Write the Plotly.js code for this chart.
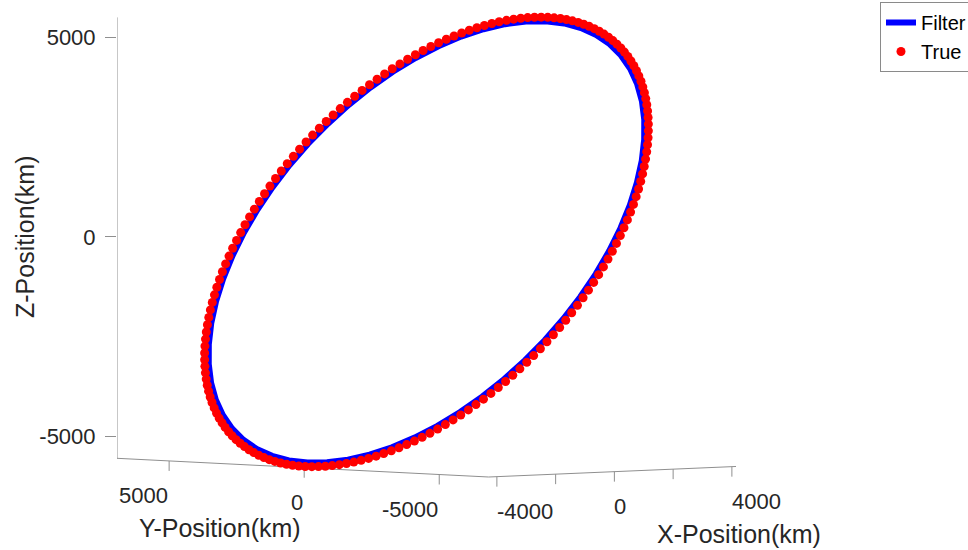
<!DOCTYPE html>
<html>
<head>
<meta charset="utf-8">
<script src="https://cdn.plot.ly/plotly-3.0.1.min.js"></script>
<style>html,body{margin:0;padding:0;background:#fff;}#chart{width:968px;height:550px;}</style>
</head>
<body>
<div id="chart"></div>
<script>
// ---- Filter estimate (blue line), km ----
const filterX = [3986,3964,3897,3788,3635,3443,3211,2944,2644,2314,1958,1580,1183,773,354,-70,-494,-913,-1323,-1720,-2098,-2454,-2784,-3084,-3351,-3583,-3775,-3928,-4037,-4104,-4126,-4104,-4037,-3928,-3775,-3583,-3351,-3084,-2784,-2454,-2098,-1720,-1323,-913,-494,-70,354,773,1183,1580,1958,2314,2644,2944,3211,3443,3635,3788,3897,3964,3986];
const filterY = [50,757,1455,2139,2800,3430,4023,4573,5074,5519,5904,6226,6479,6662,6773,6810,6773,6662,6479,6226,5904,5519,5074,4573,4023,3430,2800,2139,1455,757,50,-657,-1355,-2039,-2700,-3330,-3923,-4473,-4974,-5419,-5804,-6126,-6379,-6562,-6673,-6710,-6673,-6562,-6379,-6126,-5804,-5419,-4974,-4473,-3923,-3330,-2700,-2039,-1355,-657,50];
const filterZ = [5383,5353,5265,5118,4916,4658,4350,3994,3594,3154,2679,2175,1646,1099,540,-25,-590,-1149,-1696,-2225,-2729,-3204,-3644,-4044,-4400,-4708,-4966,-5168,-5315,-5403,-5433,-5403,-5315,-5168,-4966,-4708,-4400,-4044,-3644,-3204,-2729,-2225,-1696,-1149,-590,-25,540,1099,1646,2175,2679,3154,3594,3994,4350,4658,4916,5118,5265,5353,5383];

// ---- True positions (red dots), km ----
const trueX = [4058,4055,4048,4035,4018,3995,3968,3935,3898,3856,3809,3757,3701,3640,3575,3505,3431,3352,3270,3183,3092,2998,2899,2798,2692,2583,2471,2356,2238,2118,1994,1868,1740,1609,1476,1342,1206,1068,929,788,647,504,361,218,74,-70,
-214,-358,-501,-644,-787,-928,-1069,-1208,-1346,-1482,-1616,-1749,-1880,-2008,-2134,-2258,-2378,-2496,-2611,-2723,-2832,-2938,-3039,-3138,-3232,-3323,-3410,-3492,-3571,-3645,-3715,-3780,-3841,-3897,-3949,-3996,-4038,-4075,-4108,-4135,-4158,-4175,-4188,-4195,-4198,
-4195,-4188,-4175,-4158,-4135,-4108,-4075,-4038,-3996,-3949,-3897,-3841,-3780,-3715,-3645,-3571,-3492,-3410,-3323,-3232,-3138,-3039,-2938,-2832,-2723,-2611,-2496,-2378,-2258,-2134,-2008,-1880,-1749,-1616,-1482,-1346,-1208,-1069,-928,-787,-644,-501,-358,-214,-70,
74,218,361,504,647,788,929,1068,1206,1342,1476,1609,1740,1868,1994,2118,2238,2356,2471,2583,2692,2798,2899,2998,3092,3183,3270,3352,3431,3505,3575,3640,3701,3757,3809,3856,3898,3935,3968,3995,4018,4035,4048,4055];
const trueY = [50,290,530,769,1007,1245,1480,1714,1946,2176,2403,2627,2848,3066,3280,3490,3696,3897,4094,4286,4472,4654,4829,4999,5163,5320,5472,5616,5754,5885,6008,6125,6234,6335,6429,6515,6593,6663,6726,6780,6826,6863,6892,6913,6926,6930,
6926,6913,6892,6863,6826,6780,6726,6663,6593,6515,6429,6335,6234,6125,6008,5885,5754,5616,5472,5320,5163,4999,4829,4654,4472,4286,4094,3897,3696,3490,3280,3066,2848,2627,2403,2176,1946,1714,1480,1245,1007,769,530,290,50,
-190,-430,-669,-907,-1145,-1380,-1614,-1846,-2076,-2303,-2527,-2748,-2966,-3180,-3390,-3596,-3797,-3994,-4186,-4372,-4554,-4729,-4899,-5063,-5220,-5372,-5516,-5654,-5785,-5908,-6025,-6134,-6235,-6329,-6415,-6493,-6563,-6626,-6680,-6726,-6763,-6792,-6813,-6826,-6830,
-6826,-6813,-6792,-6763,-6726,-6680,-6626,-6563,-6493,-6415,-6329,-6235,-6134,-6025,-5908,-5785,-5654,-5516,-5372,-5220,-5063,-4899,-4729,-4554,-4372,-4186,-3994,-3797,-3596,-3390,-3180,-2966,-2748,-2527,-2303,-2076,-1846,-1614,-1380,-1145,-907,-669,-430,-190];
const trueZ = [5479,5476,5466,5449,5425,5395,5359,5316,5266,5210,5147,5078,5003,4922,4835,4742,4643,4538,4428,4312,4191,4065,3934,3798,3658,3513,3364,3210,3053,2892,2727,2559,2388,2214,2037,1857,1676,1492,1307,1119,931,741,550,359,167,-25,
-217,-409,-600,-791,-981,-1169,-1357,-1542,-1726,-1907,-2087,-2264,-2438,-2609,-2777,-2942,-3103,-3260,-3414,-3563,-3708,-3848,-3984,-4115,-4241,-4362,-4478,-4588,-4693,-4792,-4885,-4972,-5053,-5128,-5197,-5260,-5316,-5366,-5409,-5445,-5475,-5499,-5516,-5526,-5529,
-5526,-5516,-5499,-5475,-5445,-5409,-5366,-5316,-5260,-5197,-5128,-5053,-4972,-4885,-4792,-4693,-4588,-4478,-4362,-4241,-4115,-3984,-3848,-3708,-3563,-3414,-3260,-3103,-2942,-2777,-2609,-2438,-2264,-2087,-1907,-1726,-1542,-1357,-1169,-981,-791,-600,-409,-217,-25,
167,359,550,741,931,1119,1307,1492,1676,1857,2037,2214,2388,2559,2727,2892,3053,3210,3364,3513,3658,3798,3934,4065,4191,4312,4428,4538,4643,4742,4835,4922,5003,5078,5147,5210,5266,5316,5359,5395,5425,5449,5466,5476];

// ---- Axes: limits and ticks (km) ----
const xRange = [-4280, 4140];
const yRange = [-6830, 6930];
const zRange = [-5556, 5505];
const xTickVals = [-4000, -2000, 0, 2000, 4000];
const xTickText = ['-4000', '', '0', '', '4000'];
const yTickVals = [5000, 0, -5000];
const yTickText = ['5000', '0', '-5000'];
const zTickVals = [-5000, 0, 5000];
const zTickText = ['-5000', '0', '5000'];
const seriesNames = ['Filter', 'True'];
const axisTitles = {x: 'X-Position(km)', y: 'Y-Position(km)', z: 'Z-Position(km)'};

// ---- 3-D view (orthographic, equal data aspect) ----
const VIEW_AZ = -42.6, VIEW_EL = 2.65;
const phi = -VIEW_AZ * Math.PI / 180, el = VIEW_EL * Math.PI / 180;
const cp = Math.cos(phi), sp = Math.sin(phi), te = Math.tan(el), ce = Math.cos(el);
function proj(x, y, z) {
  const dx = x - xRange[0], dy = y - yRange[1];
  return [dx * cp - dy * sp, z + te * (dx * sp + dy * cp)];
}
function projMany(xs, ys, zs) {
  const h = [], v = [];
  for (let i = 0; i < xs.length; i++) {
    if (xs[i] === null) { h.push(null); v.push(null); continue; }
    const p = proj(xs[i], ys[i], zs[i]); h.push(p[0]); v.push(p[1]);
  }
  return {h, v};
}

// page geometry: the projected box runs from px 117 (left corner) to px 736 (right corner),
// front-bottom corner at py 477
const W = 968, H = 550;
const BOX = {left: 117, right: 736, front: 477};
const M = {l: BOX.left, r: 0, t: 0, b: 0, autoexpand: false};
const pw = W - M.l - M.r, ph = H - M.t - M.b;
const hRight = proj(xRange[1], yRange[0], zRange[0])[0];
const pxPerH = (BOX.right - BOX.left) / hRight;
const pxPerV = pxPerH * ce;
const vFront = proj(xRange[0], yRange[0], zRange[0])[1];
const vBottom = vFront - (H - BOX.front) / pxPerV;
const vTop = vFront + BOX.front / pxPerV;
const px2paperX = px => (px - M.l) / pw;
const py2paperY = py => (H - py) / ph;

const AX_COLOR = '#8f8f8f';
const TXT = '#262626';
const FONT = 'Liberation Sans, Arial, Helvetica, sans-serif';

// box edges that MATLAB shows as axes
const edgeX = [xRange[0], xRange[0], null, xRange[0], xRange[1], null, xRange[0], xRange[0]];
const edgeY = [yRange[1], yRange[0], null, yRange[0], yRange[0], null, yRange[1], yRange[1]];
const edgeZ = [zRange[0], zRange[0], null, zRange[0], zRange[0], null, zRange[0], zRange[1]];
const edges = projMany(edgeX, edgeY, edgeZ);

// tick marks on the X and Y axes (hang 10 px below the edge)
const tickLenV = 10 / pxPerV;
const tH = [], tV = [];
xTickVals.forEach(t => { const p = proj(t, yRange[0], zRange[0]); tH.push(p[0], p[0], null); tV.push(p[1], p[1] - tickLenV, null); });
yTickVals.forEach(t => { const p = proj(xRange[0], t, zRange[0]); tH.push(p[0], p[0], null); tV.push(p[1], p[1] - tickLenV, null); });

const fp = projMany(filterX, filterY, filterZ);
const tp = projMany(trueX, trueY, trueZ);

const traces = [
  {type: 'scatter', mode: 'lines', x: edges.h, y: edges.v, line: {color: AX_COLOR, width: 1},
   showlegend: false, hoverinfo: 'skip', cliponaxis: false},
  {type: 'scatter', mode: 'lines', x: tH, y: tV, line: {color: AX_COLOR, width: 1},
   showlegend: false, hoverinfo: 'skip', cliponaxis: false},
  {type: 'scatter', mode: 'lines', name: seriesNames[0], x: fp.h, y: fp.v,
   line: {color: '#0000ff', width: 6}, hoverinfo: 'skip', cliponaxis: false},
  {type: 'scatter', mode: 'markers', name: seriesNames[1], x: tp.h, y: tp.v,
   marker: {color: '#ff0000', size: 9, line: {width: 0}}, hoverinfo: 'skip', cliponaxis: false}
];

// tick labels of the slanted axes (placed 34.5 px below the tick root)
const annotations = [];
const toPaper = p => [p[0] * pxPerH / pw, (H - BOX.front + (p[1] - vFront) * pxPerV) / ph];
xTickVals.forEach((t, i) => {
  if (!xTickText[i]) return;
  const q = toPaper(proj(t, yRange[0], zRange[0]));
  annotations.push({x: q[0], y: q[1], xref: 'paper', yref: 'paper', yshift: -34.5, xshift: -2, text: xTickText[i],
    showarrow: false, xanchor: 'left', yanchor: 'middle', font: {size: 22, color: TXT, family: FONT}});
});
yTickVals.forEach((t, i) => {
  const q = toPaper(proj(xRange[0], t, zRange[0]));
  annotations.push({x: q[0], y: q[1], xref: 'paper', yref: 'paper', yshift: -34.5, xshift: 1, text: yTickText[i],
    showarrow: false, xanchor: 'right', yanchor: 'middle', font: {size: 22, color: TXT, family: FONT}});
});
// axis titles
annotations.push(
  {text: axisTitles.x, xref: 'paper', yref: 'paper', x: px2paperX(739), y: py2paperY(534), showarrow: false,
   font: {size: 25, color: TXT, family: FONT}, xanchor: 'center', yanchor: 'middle'},
  {text: axisTitles.y, xref: 'paper', yref: 'paper', x: px2paperX(220), y: py2paperY(528), showarrow: false,
   font: {size: 25, color: TXT, family: FONT}, xanchor: 'center', yanchor: 'middle'},
  {text: axisTitles.z, xref: 'paper', yref: 'paper', x: px2paperX(25), y: py2paperY(237), showarrow: false,
   textangle: -90, font: {size: 25, color: TXT, family: FONT}, xanchor: 'center', yanchor: 'middle'}
);

const layout = {
  width: W, height: H,
  margin: M,
  paper_bgcolor: '#ffffff', plot_bgcolor: 'rgba(0,0,0,0)',
  font: {family: FONT, color: TXT},
  showlegend: true,
  legend: {x: px2paperX(880), y: py2paperY(2), xanchor: 'left', yanchor: 'top',
           bordercolor: '#8a8a8a', borderwidth: 1, bgcolor: '#ffffff', font: {size: 20, color: '#000000', family: FONT}},
  xaxis: {range: [0, pw / pxPerH], visible: false, fixedrange: true},
  yaxis: {range: [vBottom, vTop], showgrid: false, zeroline: false, showline: false,
          ticks: 'outside', ticklen: 11, tickwidth: 1, tickcolor: AX_COLOR, ticklabelstandoff: 5,
          tickvals: zTickVals, ticktext: zTickText, tickfont: {size: 22, color: TXT, family: FONT},
          fixedrange: true, automargin: false},
  annotations: annotations
};
Plotly.newPlot('chart', traces, layout, {displayModeBar: false, staticPlot: true});
</script>
</body>
</html>
